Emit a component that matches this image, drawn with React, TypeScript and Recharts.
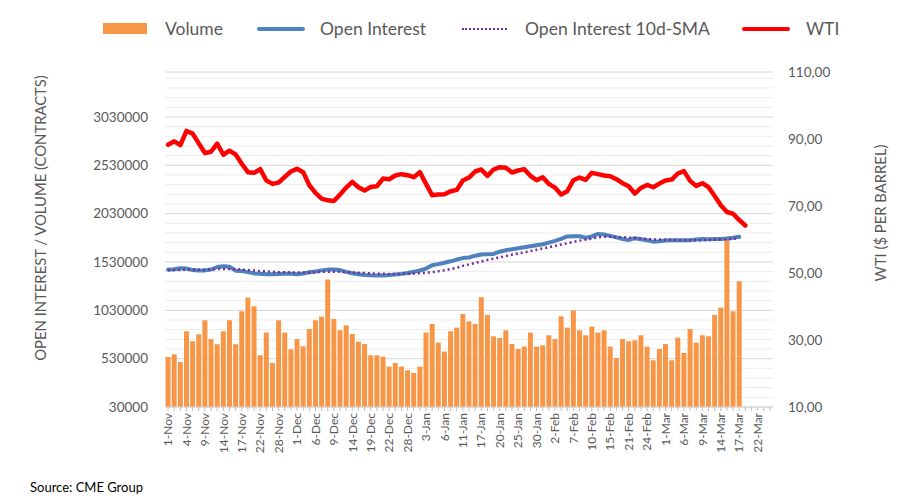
import {
  Bar,
  CartesianGrid,
  ComposedChart,
  Line,
  XAxis,
  YAxis,
} from 'recharts';

const days = [
  '1-Nov', '2-Nov', '3-Nov', '4-Nov', '7-Nov', '8-Nov', '9-Nov', '10-Nov', '11-Nov', '14-Nov',
  '15-Nov', '16-Nov', '17-Nov', '18-Nov', '21-Nov', '22-Nov', '23-Nov', '25-Nov', '28-Nov', '29-Nov',
  '30-Nov', '1-Dec', '2-Dec', '5-Dec', '6-Dec', '7-Dec', '8-Dec', '9-Dec', '12-Dec', '13-Dec',
  '14-Dec', '15-Dec', '16-Dec', '19-Dec', '20-Dec', '21-Dec', '22-Dec', '23-Dec', '27-Dec', '28-Dec',
  '29-Dec', '30-Dec', '3-Jan', '4-Jan', '5-Jan', '6-Jan', '9-Jan', '10-Jan', '11-Jan', '12-Jan',
  '13-Jan', '17-Jan', '18-Jan', '19-Jan', '20-Jan', '23-Jan', '24-Jan', '25-Jan', '26-Jan', '27-Jan',
  '30-Jan', '31-Jan', '1-Feb', '2-Feb', '3-Feb', '6-Feb', '7-Feb', '8-Feb', '9-Feb', '10-Feb',
  '13-Feb', '14-Feb', '15-Feb', '16-Feb', '17-Feb', '21-Feb', '22-Feb', '23-Feb', '24-Feb', '27-Feb',
  '28-Feb', '1-Mar', '2-Mar', '3-Mar', '6-Mar', '7-Mar', '8-Mar', '9-Mar', '10-Mar', '13-Mar',
  '14-Mar', '15-Mar', '16-Mar', '17-Mar', '20-Mar', '21-Mar', '22-Mar', '23-Mar', '24-Mar',
];

const volume = [
  547000, 575000, 495000, 813000, 710000, 782000, 927000, 733000, 679000, 813000,
  927000, 679000, 1020000, 1162000, 1072000, 565000, 800000, 485000, 927000, 800000,
  627000, 733000, 658000, 837000, 927000, 965000, 1348000, 940000, 823000, 875000,
  785000, 706000, 682000, 565000, 565000, 551000, 448000, 485000, 448000, 410000,
  382000, 448000, 800000, 889000, 696000, 603000, 813000, 851000, 992000, 916000,
  889000, 1165000, 982000, 761000, 744000, 823000, 682000, 630000, 655000, 800000,
  655000, 668000, 772000, 733000, 968000, 851000, 1030000, 823000, 772000, 862000,
  800000, 823000, 655000, 537000, 733000, 710000, 720000, 772000, 655000, 513000,
  630000, 682000, 513000, 748000, 589000, 837000, 696000, 772000, 761000, 982000,
  1058000, 1754000, 1020000, 1330000,
];

const openInterest = [
  1451000, 1455000, 1465000, 1462000, 1446000, 1442000, 1443000, 1452000, 1478000, 1485000,
  1480000, 1440000, 1436000, 1425000, 1412000, 1407000, 1404000, 1403000, 1406000, 1409000,
  1408000, 1402000, 1410000, 1423000, 1432000, 1443000, 1451000, 1452000, 1446000, 1428000,
  1414000, 1404000, 1396000, 1392000, 1390000, 1389000, 1394000, 1400000, 1407000, 1416000,
  1428000, 1442000, 1462000, 1496000, 1508000, 1522000, 1537000, 1555000, 1570000, 1576000,
  1595000, 1607000, 1610000, 1613000, 1636000, 1651000, 1662000, 1672000, 1682000, 1693000,
  1703000, 1713000, 1730000, 1749000, 1770000, 1794000, 1797000, 1796000, 1781000, 1795000,
  1820000, 1815000, 1800000, 1784000, 1768000, 1756000, 1776000, 1765000, 1755000, 1740000,
  1744000, 1752000, 1754000, 1754000, 1755000, 1756000, 1762000, 1768000, 1766000, 1767000,
  1768000, 1772000, 1780000, 1790000,
];

const openInterestSma = [
  1444000, 1446000, 1448000, 1450000, 1451000, 1450000, 1450000, 1452000, 1456000, 1458000,
  1458000, 1456000, 1450000, 1446000, 1441000, 1436000, 1432000, 1428000, 1425000, 1423000,
  1422000, 1421000, 1420000, 1422000, 1425000, 1428000, 1430000, 1430000, 1428000, 1425000,
  1421000, 1418000, 1415000, 1412000, 1410000, 1408000, 1406000, 1406000, 1407000, 1408000,
  1410000, 1414000, 1419000, 1426000, 1435000, 1444000, 1456000, 1470000, 1490000, 1505000,
  1520000, 1535000, 1550000, 1565000, 1578000, 1592000, 1605000, 1618000, 1630000, 1643000,
  1656000, 1670000, 1683000, 1697000, 1710000, 1724000, 1737000, 1750000, 1762000, 1772000,
  1785000, 1790000, 1790000, 1789000, 1786000, 1782000, 1777000, 1772000, 1768000, 1764000,
  1762000, 1760000, 1758000, 1756000, 1755000, 1754000, 1755000, 1756000, 1758000, 1760000,
  1762000, 1765000, 1770000, 1778000,
];

const wti = [
  88.3, 89.3, 88.2, 92.4, 91.6, 88.7, 85.8, 86.2, 88.6, 85.3,
  86.5, 85.4, 82.6, 80.1, 79.9, 81.0, 77.6, 76.6, 77.0, 78.7,
  80.3, 81.1, 80.1, 76.2, 73.9, 72.2, 71.7, 71.5, 73.4, 75.5,
  77.2, 75.6, 74.6, 75.7, 75.9, 78.2, 78.0, 79.1, 79.5, 79.2,
  78.6, 80.1, 76.6, 73.2, 73.4, 73.5, 74.4, 74.8, 77.6, 78.5,
  80.3, 80.9, 79.0, 80.9, 81.6, 81.4, 80.0, 80.6, 81.0, 79.0,
  77.7, 78.6, 76.6, 75.5, 73.4, 74.4, 77.7, 78.5, 77.8, 79.9,
  79.5, 79.1, 78.9, 78.0, 76.8, 75.9, 73.7, 75.4, 76.3, 75.6,
  76.7, 77.6, 77.9, 79.7, 80.4, 77.5, 76.0, 76.8, 75.6, 73.0,
  70.2, 68.2, 67.7, 65.8, 64.2,
];

const leftTicks = [30000, 530000, 1030000, 1530000, 2030000, 2530000, 3030000];
const minorGridTicks = [
  130000, 230000, 330000, 430000, 630000, 730000, 830000, 930000,
  1130000, 1230000, 1330000, 1430000, 1630000, 1730000, 1830000, 1930000,
  2130000, 2230000, 2330000, 2430000, 2630000, 2730000, 2830000, 2930000,
  3130000, 3230000, 3330000, 3430000,
];
const rightTicks = [10, 30, 50, 70, 90, 110];

const data = days.map((date, i) => ({
  date,
  volume: volume[i] ?? null,
  oi: openInterest[i] ?? null,
  sma: openInterestSma[i] ?? null,
  wti: wti[i] ?? null,
}));

const FONT = 'Lato, "Open Sans", sans-serif';
const TEXT = '#595959';
const LEFT_DOMAIN: [number, number] = [30000, 3495000];

function DateTick(props: any) {
  const { x, y, payload, index } = props;
  if (index % 3 !== 0) return null;
  return (
    <text
      x={x}
      y={y}
      transform={`rotate(-90, ${x}, ${y})`}
      textAnchor="end"
      dy="0.35em"
      fontSize={12}
      fontFamily={FONT}
      fill={TEXT}
    >
      {payload.value}
    </text>
  );
}

function LeftTick(props: any) {
  const { y, payload } = props;
  return (
    <text
      x={148}
      y={y}
      textAnchor="end"
      dy="0.35em"
      fontSize={13.5}
      fontFamily={FONT}
      fill={TEXT}
    >
      {payload.value}
    </text>
  );
}

function LegendRow() {
  const label = {
    position: 'absolute' as const,
    top: 18,
    fontSize: 17.5,
    fontFamily: FONT,
    color: TEXT,
    whiteSpace: 'nowrap' as const,
  };
  return (
    <>
      <div style={{ position: 'absolute', left: 103, top: 23, width: 44, height: 11, background: '#F79646' }} />
      <div style={{ ...label, left: 165 }}>Volume</div>
      <div style={{ position: 'absolute', left: 257, top: 27, width: 48, height: 4, borderRadius: 2, background: '#4F81BD' }} />
      <div style={{ ...label, left: 320 }}>Open Interest</div>
      <div style={{ position: 'absolute', left: 462, top: 28, width: 45, borderTop: '2px dotted #7030A0' }} />
      <div style={{ ...label, left: 525 }}>Open Interest 10d-SMA</div>
      <div style={{ position: 'absolute', left: 742, top: 27, width: 48, height: 4, borderRadius: 2, background: '#FF0000' }} />
      <div style={{ ...label, left: 806 }}>WTI</div>
    </>
  );
}

export default function App() {
  return (
    <div
      style={{
        position: 'absolute',
        left: 0,
        top: 0,
        width: 907,
        height: 502,
        background: '#ffffff',
        fontFamily: FONT,
      }}
    >
      <LegendRow />
      <div
        style={{
          position: 'absolute',
          left: 40,
          top: 218,
          transform: 'translate(-50%, -50%) rotate(-90deg)',
          fontSize: 14.8,
          color: TEXT,
          whiteSpace: 'nowrap',
        }}
      >
        OPEN INTEREST / VOLUME (CONTRACTS)
      </div>
      <div
        style={{
          position: 'absolute',
          left: 880,
          top: 213,
          transform: 'translate(-50%, -50%) rotate(-90deg)',
          fontSize: 14.8,
          color: TEXT,
          whiteSpace: 'nowrap',
        }}
      >
        WTI ($ PER BARREL)
      </div>
      <div
        style={{
          position: 'absolute',
          left: 30,
          top: 479,
          fontSize: 13,
          color: '#000000',
          whiteSpace: 'nowrap',
        }}
      >
        Source: CME Group
      </div>
      <ComposedChart
        width={907}
        height={502}
        data={data}
        margin={{ top: 72, right: 54, bottom: 35, left: 85 }}
        barCategoryGap="9%"
        style={{ position: 'absolute', left: 0, top: 0 }}
      >
        <CartesianGrid
          yAxisId="left"
          vertical={false}
          stroke="#ececec"
          horizontalValues={minorGridTicks}
        />
        <CartesianGrid yAxisId="left" vertical={false} stroke="#d6d6d6" />
        <XAxis
          dataKey="date"
          interval={0}
          height={60}
          tickSize={4}
          tickMargin={2}
          tickLine={{ stroke: '#bfbfbf' }}
          axisLine={{ stroke: '#d6d6d6' }}
          tick={<DateTick />}
        />
        <YAxis
          yAxisId="left"
          width={80}
          domain={LEFT_DOMAIN}
          ticks={leftTicks}
          interval={0}
          allowDataOverflow
          axisLine={false}
          tickLine={false}
          tick={<LeftTick />}
        />
        <YAxis
          yAxisId="right"
          orientation="right"
          width={80}
          domain={[10, 110]}
          ticks={rightTicks}
          interval={0}
          axisLine={false}
          tickLine={false}
          tickSize={0}
          tickMargin={15}
          tickFormatter={(v: number) => v.toFixed(2).replace('.', ',')}
          tick={{ fontSize: 13.5, fill: TEXT, fontFamily: FONT }}
        />
        <Bar
          yAxisId="left"
          dataKey="volume"
          fill="#F79646"
          isAnimationActive={false}
        />
        <Line
          yAxisId="left"
          type="linear"
          dataKey="oi"
          stroke="#4F81BD"
          strokeWidth={4}
          strokeLinejoin="round"
          strokeLinecap="round"
          dot={false}
          activeDot={false}
          isAnimationActive={false}
        />
        <Line
          yAxisId="left"
          type="linear"
          dataKey="sma"
          stroke="#7030A0"
          strokeWidth={2.5}
          strokeDasharray="2 3"
          dot={false}
          activeDot={false}
          isAnimationActive={false}
        />
        <Line
          yAxisId="right"
          type="linear"
          dataKey="wti"
          stroke="#FF0000"
          strokeWidth={4.5}
          strokeLinejoin="round"
          strokeLinecap="round"
          dot={false}
          activeDot={false}
          isAnimationActive={false}
        />
      </ComposedChart>
    </div>
  );
}
